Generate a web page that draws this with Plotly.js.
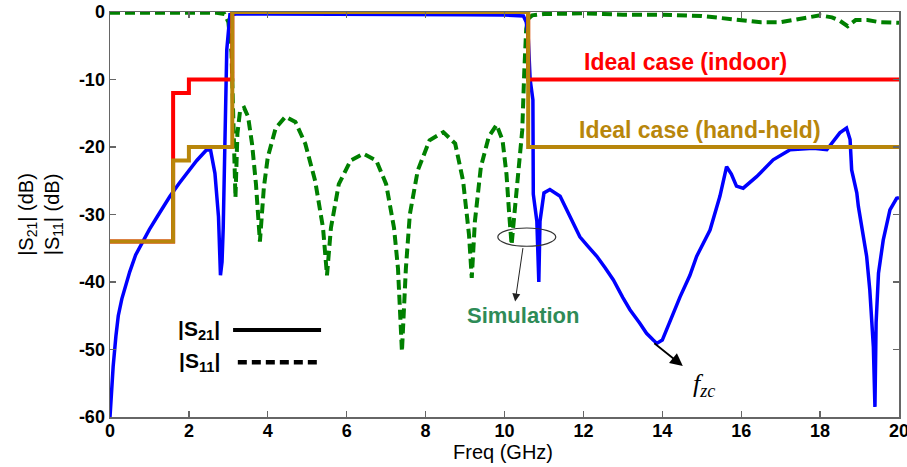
<!DOCTYPE html>
<html>
<head>
<meta charset="utf-8">
<script src="https://cdn.plot.ly/plotly-3.0.1.min.js"></script>
<style>html,body{margin:0;padding:0;background:#fff;}#chart{width:907px;height:467px;}</style>
</head>
<body>
<div id="chart"></div>
<script>
// ---- data ----
const s11Freq = [0,1,2,2.7,2.9,3.0,3.08,3.13,3.18,3.23,3.3,3.4,3.5,3.6,3.7,3.8,3.9,4.0,4.2,4.45,4.7,4.95,5.2,5.4,5.5,5.6,5.8,6.1,6.42,6.75,7.0,7.2,7.3,7.4,7.5,7.6,7.8,8.1,8.45,8.75,8.95,9.1,9.17,9.25,9.4,9.6,9.8,9.95,10.05,10.12,10.18,10.25,10.35,10.45,10.5,10.55,10.6,10.7,11,12,12.5,13,14,15,15.5,16,16.5,17,17.5,18,18.3,18.5,18.7,18.9,19.2,19.5,20];
const s11dB   = [-0.1,-0.1,-0.1,-0.1,-0.3,-1.5,-6,-18,-27.5,-18,-14.5,-14.2,-15.5,-19.5,-25.5,-34,-26,-21.5,-17.2,-15.5,-16.3,-19.5,-25,-32,-39,-32,-25.5,-22,-21,-22,-25.5,-32,-38,-50.3,-38,-30,-23.5,-19,-17.8,-19.5,-25,-33,-39.4,-31,-23,-18.5,-16.7,-19,-24,-30,-34.5,-30,-24,-17.5,-9,-2.5,-1,-0.5,-0.3,-0.2,-0.3,-0.4,-0.4,-0.6,-0.9,-1.2,-1.5,-1.5,-1.0,-0.5,-0.8,-1.3,-2.1,-1.2,-1.2,-1.5,-1.6];

const s21Freq = [0,0.03,0.08,0.15,0.21,0.3,0.38,0.5,0.65,0.84,1.0,1.2,1.52,1.75,1.94,2.2,2.45,2.55,2.66,2.75,2.8,2.84,2.87,2.92,2.96,3.04,3.2,4,5,6,7,8,9,10,10.48,10.55,10.6,10.65,10.72,10.73,10.82,10.87,10.9,11.0,11.15,11.41,11.6,11.91,12.1,12.34,12.55,12.76,13.0,13.18,13.43,13.6,13.77,13.86,14.0,14.1,14.45,14.7,14.87,15.21,15.46,15.63,15.75,15.88,16.05,16.39,16.81,17.24,17.5,17.83,18.17,18.5,18.67,18.76,18.8,18.93,18.97,19.18,19.26,19.35,19.39,19.42,19.48,19.6,19.77,19.94,20];
const s21dB   = [-60,-57,-52.5,-48,-45,-42.5,-40.7,-38.5,-36,-33.8,-32.2,-30.3,-27.3,-25.4,-23.9,-22,-20.4,-20.5,-23.9,-30.3,-39,-37,-32,-13,-5.6,-0.4,-0.3,-0.3,-0.3,-0.3,-0.3,-0.35,-0.4,-0.45,-0.6,-1.5,-3.6,-10,-13,-27,-31,-40,-31,-26.8,-26.3,-27.3,-29.5,-33.3,-34.6,-36.2,-37.9,-39.7,-42.3,-44.1,-46.1,-47.6,-48.6,-49.1,-48.6,-47.1,-42.2,-39,-36.2,-32.3,-27.3,-22.9,-24,-25.8,-26.1,-24.4,-21.9,-20.4,-20.3,-20.2,-20.4,-17.9,-17.2,-18.9,-23.4,-26.8,-28.8,-36.2,-41.2,-49.6,-58.5,-46,-38.7,-33.8,-29.3,-27.6,-27.5];

const indoorFreq = [0,1.6,1.6,2.0,2.0,3.1,3.1,10.6,10.6,20];
const indoordB   = [-34,-34,-12,-12,-10,-10,0,0,-10,-10];
const handFreq   = [0,1.6,1.6,2.0,2.0,3.1,3.1,10.6,10.6,20];
const handdB     = [-34,-34,-22,-22,-20,-20,0,0,-20,-20];

const yTickVals  = [-60,-50,-40,-30,-20,-10,0];
const yTickText  = ['-60','-50','-40','-30','-20','-10','0'];
const xTickVals  = [0,2,4,6,8,10,12,14,16,18,20];
const xTickText  = ['0','2','4','6','8','10','12','14','16','18','20'];

// ---- colours ----
const blue = '#0000ff', red = '#ff0000', brown = '#b8860b', green = '#008000', simGreen = '#2e8b57';
const sans = 'Arial, Liberation Sans, sans-serif';
const bold = s => '<b>' + s + '</b>';

const traces = [
  {x: s11Freq, y: s11dB, mode: 'lines', line: {color: green, width: 4, dash: '10px,5px'}, name: '|S11|'},
  {x: s21Freq, y: s21dB, mode: 'lines', line: {color: blue, width: 3.5}, name: '|S21|'},
  {x: indoorFreq, y: indoordB, mode: 'lines', line: {color: red, width: 4}, name: 'indoor'},
  {x: handFreq, y: handdB, mode: 'lines', line: {color: brown, width: 4}, name: 'hand-held'}
];

const axisCommon = {
  showgrid: false, zeroline: false, showline: true, linecolor: '#666', linewidth: 1.5,
  mirror: 'ticks', ticks: 'inside', ticklen: 6, tickcolor: '#666', tickwidth: 1.2,
  ticklabeloverflow: 'allow', automargin: false,
  tickfont: {family: sans, size: 18, color: '#000'}
};

const layout = {
  width: 907, height: 467,
  margin: {l: 110, r: 8, t: 12, b: 50},
  paper_bgcolor: '#fff', plot_bgcolor: '#fff',
  showlegend: false,
  xaxis: Object.assign({}, axisCommon, {
    range: [0, 20], tickmode: 'array', tickvals: xTickVals, ticktext: xTickText.map(bold),
    ticklabelstandoff: -3
  }),
  yaxis: Object.assign({}, axisCommon, {
    range: [-60, 0], tickmode: 'array', tickvals: yTickVals, ticktext: yTickText.map(bold),
    title: {text: '|S<sub>21</sub>| (dB)<br>|S<sub>11</sub>| (dB)', font: {family: sans, size: 20, color: '#000'}, standoff: 14}
  }),
  shapes: [
    {type: 'line', xref: 'x', yref: 'y', x0: 3.12, x1: 5.35, y0: -47.1, y1: -47.1, line: {color: '#000', width: 4}},
    {type: 'line', xref: 'x', yref: 'y', x0: 3.24, x1: 5.35, y0: -51.9, y1: -51.9, line: {color: '#000', width: 4.5, dash: '9px,5px'}},
    {type: 'circle', xref: 'x', yref: 'y', x0: 9.83, x1: 11.3, y0: -32.0, y1: -34.7, line: {color: '#333', width: 1.2}}
  ],
  annotations: [
    {x: 0.498, y: -0.087, xref: 'paper', yref: 'paper', yanchor: 'middle', text: 'Freq (GHz)', showarrow: false,
     font: {family: sans, size: 20, color: '#000'}},
    {x: 14.58, y: -7.34, xref: 'x', yref: 'y', text: bold('Ideal case (indoor)'), showarrow: false,
     font: {family: sans, size: 23, color: red}},
    {x: 14.96, y: -17.43, xref: 'x', yref: 'y', text: bold('Ideal case (hand-held)'), showarrow: false,
     font: {family: sans, size: 23, color: brown}},
    {x: 10.47, y: -45.0, xref: 'x', yref: 'y', text: bold('Simulation'), showarrow: false,
     font: {family: sans, size: 22, color: simGreen}},
    {x: 10.27, y: -42.9, xref: 'x', yref: 'y', text: '', showarrow: true, ax: 8, ay: -55,
     arrowhead: 2, arrowsize: 1.6, arrowwidth: 1, arrowcolor: '#222'},
    {x: 14.52, y: -52.45, xref: 'x', yref: 'y', text: '', showarrow: true, ax: -30, ay: -24,
     arrowhead: 2, arrowsize: 1.4, arrowwidth: 1.8, arrowcolor: '#000'},
    {x: 15.06, y: -55.3, xref: 'x', yref: 'y', text: '<i>f</i><sub><i>zc</i></sub>', showarrow: false,
     font: {family: 'Liberation Serif, DejaVu Serif, serif', size: 26, color: '#000'}},
    {x: 2.84, y: -47.1, xref: 'x', yref: 'y', xanchor: 'right', text: bold('|S<sub>21</sub>|'), showarrow: false,
     font: {family: sans, size: 21, color: '#000'}},
    {x: 2.84, y: -51.9, xref: 'x', yref: 'y', xanchor: 'right', text: bold('|S<sub>11</sub>|'), showarrow: false,
     font: {family: sans, size: 21, color: '#000'}}
  ]
};

Plotly.newPlot('chart', traces, layout, {displayModeBar: false, staticPlot: true});
</script>
</body>
</html>
